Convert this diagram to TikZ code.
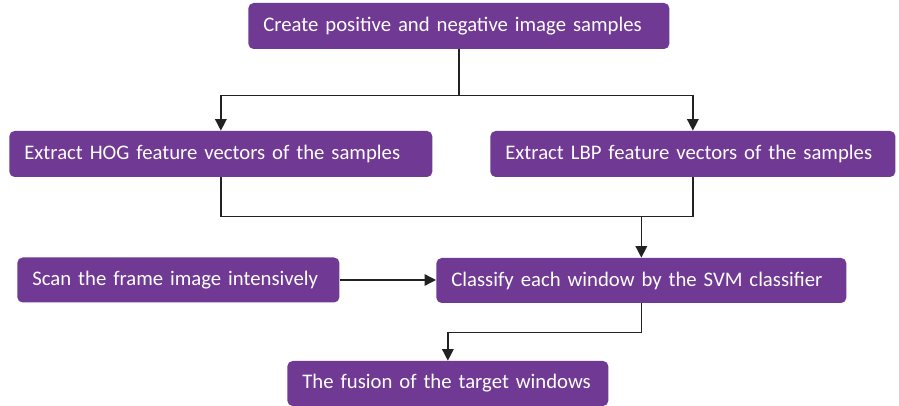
\documentclass[tikz,border=0pt]{standalone}
\usepackage{fontspec}
\setmainfont{Carlito}
\usetikzlibrary{arrows.meta}
\definecolor{boxpurple}{RGB}{112,57,148}
\definecolor{linegray}{RGB}{34,34,34}
\begin{document}
\begin{tikzpicture}[
    stage/.style={fill=boxpurple,text=white,rounded corners=3pt,anchor=west,align=left,
        minimum height=0.9cm,inner xsep=0.3cm,font=\fontsize{11.8}{14}\selectfont},
    link/.style={linegray,line width=0.85pt},
    arr/.style={link,-{Triangle[length=6.5pt,width=6.5pt]}}
]
                    \useasboundingbox (0,0) rectangle (17.98,-8.12);
                    
                    \node[stage,text width=7.82cm,minimum height=0.92cm] (create) at (4.96,-0.52) {Create positive and negative image samples};
                    
                    \node[stage,text width=7.86cm,minimum height=0.92cm] (hog) at (0.18,-3.08) {Extract HOG feature vectors of the samples};
                    \node[stage,text width=7.5cm,minimum height=0.92cm] (lbp) at (9.8,-3.08) {Extract LBP feature vectors of the samples};
                    
                    \node[stage,text width=5.84cm] (scan) at (0.34,-5.6) {Scan the frame image intensively};
                    \node[stage,text width=7.6cm] (classify) at (8.72,-5.61) {Classify each window by the SVM classifier};
                    
                    \node[stage,text width=5.82cm] (fusion) at (5.74,-7.67) {The fusion of the target windows};
                    
                    \draw[link] (create.south) -- ++(0,-0.92) coordinate (split);
                    \draw[arr] (split) -| (hog.north);
                    \draw[arr] (split) -| (lbp.north);
                    
                    \draw[link] (hog.south) -- ++(0,-0.78) coordinate (merge) -| (lbp.south);
                    \draw[arr] (merge -| classify.north) -- (classify.north);
                    
                    \draw[arr] (scan) -- (scan -| classify.west);
                    
                    \draw[arr] (classify.south) -- ++(0,-0.58) -| (fusion.north);
                \end{tikzpicture}
\end{document}
